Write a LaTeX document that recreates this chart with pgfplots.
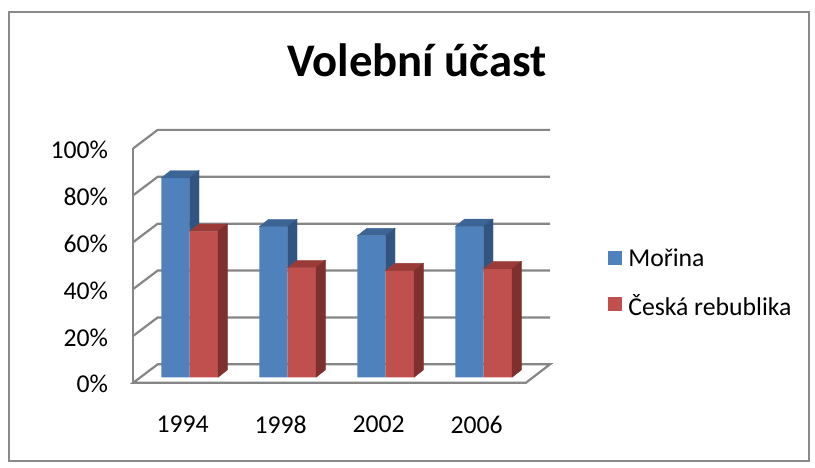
\documentclass[border=0pt]{standalone}
\usepackage{pgfplots}
\usepackage{pgfplotstable}
\pgfplotsset{compat=1.18}
\usepackage{fontspec}
\setmainfont{Carlito}
\definecolor{mblue}{HTML}{4F81BD}
\definecolor{mbluetop}{HTML}{3C6596}
\definecolor{mblueside}{HTML}{325480}
\definecolor{mred}{HTML}{C0504D}
\definecolor{mredtop}{HTML}{9B3B38}
\definecolor{mredside}{HTML}{7D302E}
\definecolor{gridgray}{HTML}{868686}
\definecolor{framegray}{HTML}{8A8A8A}
\pgfplotstableread{
x blue red
0 85.1 62.3
1 64.3 46.8
2 60.4 45.5
3 64.4 46.3
}\turnout
\pgfdeclareplotmark{nothing}{}
% faces of the left (blue) bar: mark at category centre, bar spans -28.3bp..0bp;
% its side face is visible only above the neighbouring red bar
\newcommand\bluefaces{%
  \pgfmathsetlengthmacro\hh{max(\h-\hr,0)*2.344bp}%
  \pgfmathsetlengthmacro\hb{7.3bp-\hh}%
  \fill[mbluetop] (-28.3bp,0bp) -- (0bp,0bp) -- (9.3bp,7.3bp) -- (-19bp,7.3bp) -- cycle;
  \fill[mblueside] (0bp,0bp) -- (9.3bp,7.3bp) -- (9.3bp,\hb) -- (0bp,-\hh) -- cycle;}
% faces of the right (red) bar: bar spans 0bp..28.3bp
\newcommand\redfaces{%
  \pgfmathsetlengthmacro\hh{\h*2.344bp}%
  \pgfmathsetlengthmacro\hb{7.3bp-\hh}%
  \fill[mredtop] (0bp,0bp) -- (28.3bp,0bp) -- (37.6bp,7.3bp) -- (9.3bp,7.3bp) -- cycle;
  \fill[mredside] (28.3bp,0bp) -- (37.6bp,7.3bp) -- (37.6bp,\hb) -- (28.3bp,-\hh) -- cycle;}
\newcommand\bodyfont{\fontsize{25.7bp}{30bp}\selectfont}
\pgfplotsset{sqlegend/.style={legend image code/.code={\fill[##1] (0bp,-6bp) rectangle (14bp,8bp); \path (20.6bp,0bp);}}}
\begin{document}
\begin{tikzpicture}[x=1bp,y=1bp]
\useasboundingbox (0,0) rectangle (815,468);
\draw[framegray, line width=2bp] (9,456) rectangle (809,7);
\node[anchor=base, font=\fontsize{46.7bp}{56bp}\selectfont\bfseries, inner sep=0pt] at (416.7,391.3) {Volební účast};
\begin{scope}[draw=gridgray, line width=2.2bp, line join=miter]
\foreach \v in {20,40,60,80,100} {
  \pgfmathsetmacro\fy{85.3+\v*2.344}
  \draw (133.3,\fy) -- ++(24.4,18.4) -- (550,\fy+18.4);
}
\draw (133.3,85.3) -- (157.7,103.7) -- (550,103.7) -- (526,85.3) -- cycle;
\draw (133.3,85.3) -- (133.3,319.7);
\end{scope}
\begin{axis}[
  at={(140.7bp,90.7bp)}, anchor=south west,
  scale only axis, width=392bp, height=234.4bp,
  xmin=-0.5, xmax=3.5, ymin=0, ymax=100,
  axis line style={draw=none},
  major tick length=0pt,
  xtick={0,1,2,3}, xticklabels={1994,1998,2002,2006},
  ytick={0,20,40,60,80,100}, yticklabels={0\%,20\%,40\%,60\%,80\%,100\%},
  xticklabel style={anchor=north, inner sep=0pt, xshift=-7bp, yshift=-38.5bp},
  yticklabel style={anchor=east, inner sep=0pt, xshift=-32.4bp, yshift=-7bp},
  ticklabel style={font=\bodyfont},
  clip=false,
  legend cell align=left,
  legend style={at={(1.1913,0.546)}, anchor=north west, draw=none, fill=none,
    inner sep=0pt, outer sep=0pt, row sep=25.5bp, font=\bodyfont,
    nodes={inner sep=0pt}},
]
\addplot[ybar, bar width=28.3bp, bar shift=-14.15bp, fill=mblue, draw=none, sqlegend]
  table[x=x, y=blue] {\turnout};
\addlegendentry{Mořina}
\addplot[ybar, bar width=28.3bp, bar shift=14.15bp, fill=mred, draw=none, sqlegend]
  table[x=x, y=red] {\turnout};
\addlegendentry{Česká rebublika}
\addplot[forget plot, scatter, only marks, mark=nothing,
  visualization depends on={rawy \as \h},
  visualization depends on={\thisrow{red} \as \hr},
  scatter/@pre marker code/.code={\bluefaces},
  scatter/@post marker code/.code={}]
  table[x=x, y=blue] {\turnout};
\addplot[forget plot, scatter, only marks, mark=nothing,
  visualization depends on={rawy \as \h},
  scatter/@pre marker code/.code={\redfaces},
  scatter/@post marker code/.code={}]
  table[x=x, y=red] {\turnout};
\end{axis}
\end{tikzpicture}
\end{document}
